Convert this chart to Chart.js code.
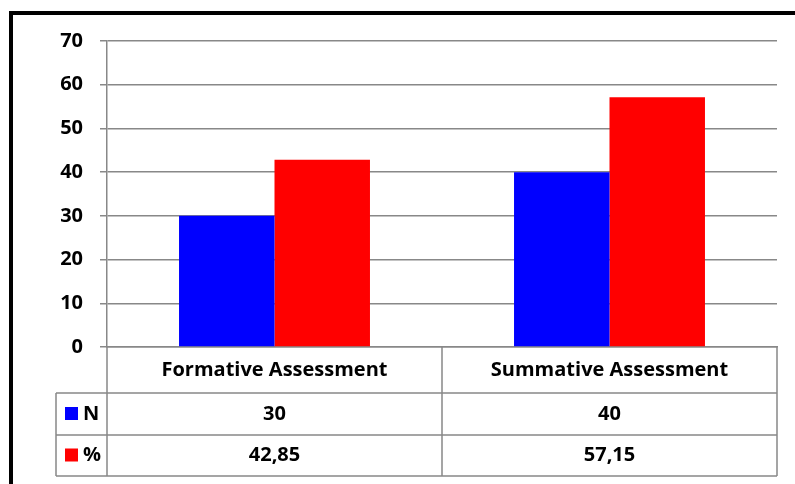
<!DOCTYPE html>
<html>
<head>
<meta charset="utf-8">
<script src="https://cdn.jsdelivr.net/npm/chart.js@4"></script>
<style>
    html, body { margin: 0; padding: 0; background: #fff; }
    #wrap { width: 795px; height: 484px; position: relative; }
</style>
</head>
<body>
<div id="wrap"><canvas id="chart" width="795" height="484"></canvas></div>
<script>
const categories = ['Formative Assessment', 'Summative Assessment'];
const seriesNames = ['N', '%'];
const nValues = [30, 40];
const pctValues = [42.85, 57.15];
const seriesColors = ['#0000ff', '#ff0000'];

const FONT = '"Open Sans", Lato, sans-serif';
const GRID = '#888888';

function fmt(v) {
    return String(v).replace('.', ',');
}

// black frame on top and left
const framePlugin = {
    id: 'frame',
    beforeDraw(chart) {
        const ctx = chart.ctx;
        ctx.save();
        ctx.fillStyle = '#000';
        ctx.fillRect(9, 11, chart.width - 9, 4);
        ctx.fillRect(9, 11, 4, chart.height - 11);
        ctx.restore();
    }
};

// data table under the plot, built from the x scale
const tablePlugin = {
    id: 'dataTable',
    afterDraw(chart) {
        const ctx = chart.ctx;
        const area = chart.chartArea;
        const x = chart.scales.x;
        const n = categories.length;
        const step = (area.right - area.left) / n;
        const rowTop = area.bottom;
        const rows = [rowTop, rowTop + 46, rowTop + 88, rowTop + 129];
        const legendLeft = 56;

        ctx.save();
        ctx.strokeStyle = GRID;
        ctx.lineWidth = 1.5;
        ctx.beginPath();
        // horizontal lines
        for (let r = 1; r < rows.length; r++) {
            ctx.moveTo(legendLeft, rows[r]);
            ctx.lineTo(area.right, rows[r]);
        }
        // verticals
        for (let i = 0; i <= n; i++) {
            const vx = area.left + i * step;
            ctx.moveTo(vx, rowTop);
            ctx.lineTo(vx, rows[3]);
        }
        ctx.moveTo(legendLeft, rows[1]);
        ctx.lineTo(legendLeft, rows[3]);
        ctx.stroke();

        ctx.fillStyle = '#000';
        ctx.font = 'bold 20px ' + FONT;
        ctx.textAlign = 'center';
        ctx.textBaseline = 'middle';
        const rowData = [categories, nValues.map(fmt), pctValues.map(fmt)];
        for (let r = 0; r < 3; r++) {
            const cy = (rows[r] + rows[r + 1]) / 2;
            for (let i = 0; i < n; i++) {
                ctx.fillText(rowData[r][i], x.getPixelForValue(i), cy);
            }
        }

        // legend keys
        ctx.textAlign = 'left';
        for (let s = 0; s < seriesNames.length; s++) {
            const cy = (rows[s + 1] + rows[s + 2]) / 2;
            ctx.fillStyle = seriesColors[s];
            ctx.fillRect(65, cy - 7, 13, 13);
            ctx.fillStyle = '#000';
            ctx.fillText(seriesNames[s], 83, cy);
        }
        ctx.restore();
    }
};

new Chart(document.getElementById('chart').getContext('2d'), {
    type: 'bar',
    data: {
        labels: categories,
        datasets: [{
            label: seriesNames[0],
            data: nValues,
            backgroundColor: seriesColors[0],
            borderWidth: 0,
        }, {
            label: seriesNames[1],
            data: pctValues,
            backgroundColor: seriesColors[1],
            borderWidth: 0,
        }]
    },
    options: {
        responsive: false,
        animation: false,
        layout: {
            padding: { left: 0, top: 41, right: 18, bottom: 137 }
        },
        datasets: {
            bar: {
                categoryPercentage: 0.57,
                barPercentage: 1.0,
            }
        },
        plugins: {
            legend: { display: false },
            tooltip: { enabled: false },
        },
        scales: {
            x: {
                display: true,
                grid: { display: false, drawTicks: false },
                ticks: { display: false },
                border: { display: true, color: GRID, width: 1.5 },
                afterFit: function (scale) { scale.height = 0; },
            },
            y: {
                min: 0,
                max: 70,
                ticks: {
                    stepSize: 10,
                    color: '#000',
                    padding: 17,
                    font: { family: FONT, size: 20, weight: 'bold' },
                },
                grid: {
                    color: GRID,
                    lineWidth: 1.5,
                    tickLength: 7,
                },
                border: { display: true, color: GRID, width: 1.5 },
                afterFit: function (scale) { scale.width = 107; },
            }
        }
    },
    plugins: [framePlugin, tablePlugin]
});
</script>
</body>
</html>
